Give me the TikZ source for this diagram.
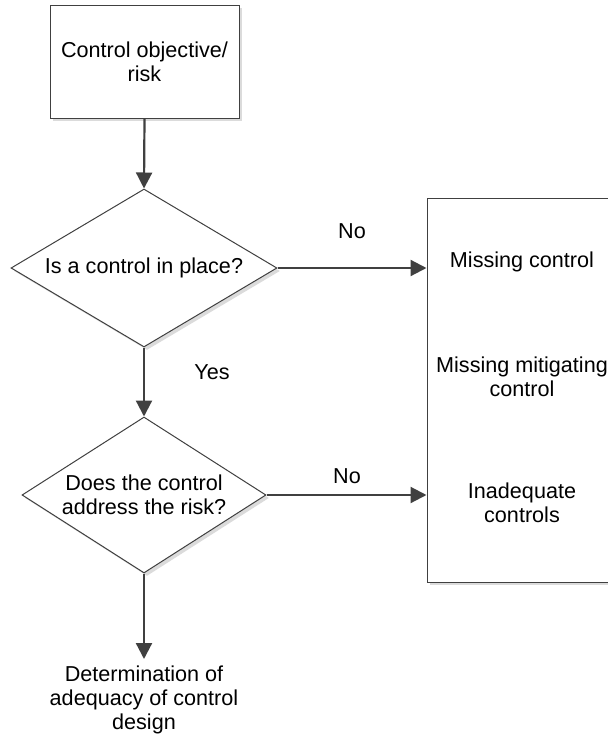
\documentclass[tikz,border=0pt]{standalone}
\usepackage{fontspec}
\setmainfont{Liberation Sans}
\usepackage{tikz}
\usetikzlibrary{shapes.geometric, shadows, arrows.meta}

\definecolor{edgegray}{HTML}{404040}
\tikzset{
  shade/.style={drop shadow={shadow xshift=1.5pt, shadow yshift=-1.5pt, fill=black!14, opacity=1}},
  stepbox/.style={draw=edgegray, line width=0.5pt, fill=white, shade, align=center, inner sep=0pt},
  decision/.style={diamond, draw=edgegray, line width=0.5pt, fill=white, shade, align=center, inner sep=0pt},
  flow/.style={draw=edgegray, line width=1.1pt, -{Triangle[length=8pt,width=8pt]}},
  txt/.style={align=center, inner sep=0pt}
}

\begin{document}
\begin{tikzpicture}[x=0.5pt, y=-0.5pt, font=\fontsize{10.8}{12.2}\selectfont]
\useasboundingbox (0,0) rectangle (608,735);
\node[stepbox, minimum width=94.5pt, minimum height=56.5pt] (obj) at (144.5,61.5) {Control objective/\\risk};
\node[decision, aspect=1.684, minimum width=133pt, minimum height=79pt] (inplace) at (144,268) {Is a control in place?};
\node[decision, aspect=1.564, minimum width=122pt, minimum height=78pt] (address) at (144,495) {Does the control\\address the risk?};
\node[txt, anchor=north] (adequacy) at (144,665) {Determination of\\adequacy of control\\design};
\node[stepbox, minimum width=95pt, minimum height=192pt] (gaps) at (522,390) {};
\node[txt] (missing) at (522,262) {Missing control};
\node[txt] (mitigating) at (522,377) {Missing mitigating\\control};
\node[txt] (inadequate) at (522,503) {Inadequate\\controls};
\node[txt] (no1) at (352,231) {No};
\node[txt] (no2) at (347,476) {No};
\node[txt] (yes) at (212,372) {Yes};
\draw[flow] (obj.south) -- (inplace.north);
\draw[flow] (inplace.south) -- (address.north);
\draw[flow] (address.south) -- ([yshift=3pt]adequacy.north);
\draw[flow] (inplace.east) -- (gaps.west |- inplace.east);
\draw[flow] (address.east) -- (gaps.west |- address.east);
\end{tikzpicture}
\end{document}
